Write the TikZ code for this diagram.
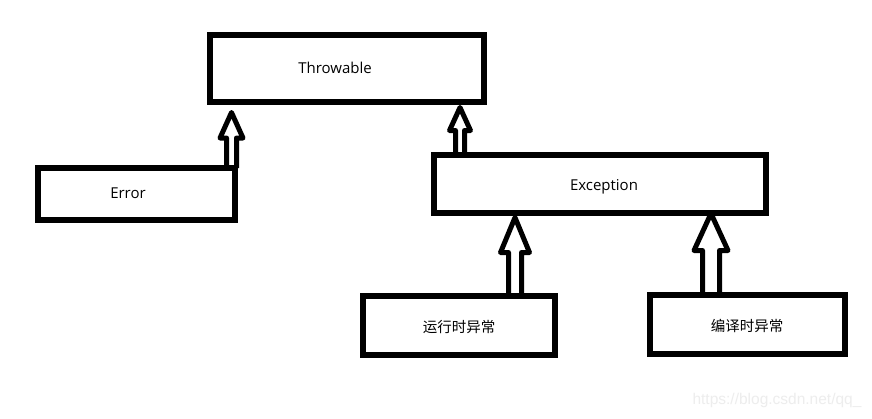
\documentclass[tikz,border=0pt]{standalone}
\usepackage{fontspec}
\setmainfont{Open Sans}
\newfontfamily\cjkfont{Noto Sans CJK SC}
\newfontfamily\wmfont{Liberation Sans}
\usetikzlibrary{calc}
\newcommand\hollowarr[7]{% child, parent, x, half shaft, half head, gap, head length
  \draw[harr] let \p1=(#1.north), \p2=(#2.south) in
    ({#3pt-#4pt},\y1) -- ({#3pt-#4pt},{\y2-#6pt-#7pt}) -- ({#3pt-#5pt},{\y2-#6pt-#7pt})
    -- ({#3pt},{\y2-#6pt}) -- ({#3pt+#5pt},{\y2-#6pt-#7pt}) -- ({#3pt+#4pt},{\y2-#6pt-#7pt})
    -- ({#3pt+#4pt},\y1);}
\begin{document}
\begin{tikzpicture}[x=1pt,y=-1pt,
  box/.style 2 args={draw=black,line width=6pt,fill=white,rectangle,inner sep=0pt,outer sep=0pt,minimum width=#1pt,minimum height=#2pt},
  lbl/.style={inner sep=0pt,font=\fontsize{15}{18}\selectfont,text=black},
  cjklbl/.style={inner sep=0pt,font=\cjkfont\fontsize{14.5}{17}\selectfont,text=black},
  harr/.style={draw=black,line width=5pt,line join=round}]
\fill[white] (0,0) rectangle (872,418);
\useasboundingbox (0,0) rectangle (872,418);
% boxes
\node[box={274}{67}] (throw) at (347,68.5) {};
\node[box={197}{52}] (err) at (136.5,194) {};
\node[box={332}{58}] (exc) at (600,184) {};
\node[box={192}{59}] (rt) at (459,325.5) {};
\node[box={195}{59}] (ct) at (747.5,324.5) {};
% labels
\node[lbl] (tthrow) at (335,68) {Throwable};
\node[lbl] (terr) at (128,193) {Error};
\node[lbl] (texc) at (604,186.5) {Exception};
\node[cjklbl] (trt) at (459,327) {运行时异常};
\node[cjklbl] (tct) at (747,326) {编译时异常};
% arrows
\hollowarr{err}{throw}{231.5}{5}{11.5}{10.5}{25.5}
\hollowarr{exc}{throw}{460}{4.5}{10.5}{5.5}{23}
\hollowarr{rt}{exc}{515}{6.5}{14.5}{4.5}{35}
\hollowarr{ct}{exc}{711}{8.5}{17}{0.5}{37}
% watermark
\node[inner sep=0pt,text=black!7,font=\wmfont\fontsize{15.5}{18}\selectfont] (wm) at (777,400) {https://blog.csdn.net/qq\_};
\end{tikzpicture}
\end{document}
